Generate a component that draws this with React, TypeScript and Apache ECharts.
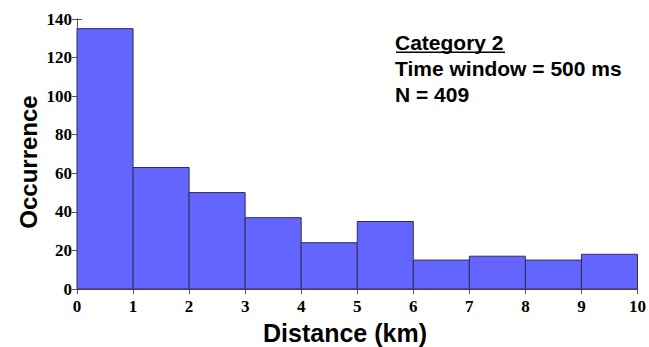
import React, { useEffect, useRef } from "react";
import * as echarts from "echarts";

const binStarts = [0, 1, 2, 3, 4, 5, 6, 7, 8, 9];
const binWidth = 1;
const counts = [135, 63, 50, 37, 24, 35, 15, 17, 15, 18];
const annotation = ["Category 2", "Time window = 500 ms", "N = 409"];

export default function App() {
  const ref = useRef<HTMLDivElement>(null);
  useEffect(() => {
    if (!ref.current) return;
    const chart = echarts.init(ref.current, null, { renderer: "svg" });
    const data = binStarts.map((s, i) => [s, s + binWidth, counts[i]]);
    const tickLabel = {
      fontFamily: "Liberation Serif",
      fontWeight: "bold" as const,
      fontSize: 17,
      color: "#000",
    };
    const axisLine = { show: true, lineStyle: { color: "#555", width: 1 } };
    const tick = { show: true, inside: true, length: 5, lineStyle: { color: "#555" } };
    chart.setOption({
      animation: false,
      grid: { left: 77, right: 8, top: 19, bottom: 58 },
      xAxis: [
        {
          type: "value",
          min: 0,
          max: 10,
          interval: 1,
          axisLine,
          axisTick: tick,
          axisLabel: { ...tickLabel, margin: 9 },
          splitLine: { show: false },
        },
        {
          type: "value",
          position: "top",
          min: 0,
          max: 10,
          interval: 1,
          axisLine,
          axisTick: tick,
          axisLabel: { show: false },
          splitLine: { show: false },
        },
      ],
      yAxis: [
        {
          type: "value",
          min: 0,
          max: 140,
          interval: 20,
          axisLine,
          axisTick: tick,
          axisLabel: { ...tickLabel, margin: 5 },
          splitLine: { show: false },
        },
        {
          type: "value",
          position: "right",
          min: 0,
          max: 140,
          interval: 20,
          axisLine,
          axisTick: tick,
          axisLabel: { show: false },
          splitLine: { show: false },
        },
      ],
      series: [
        {
          type: "custom",
          xAxisIndex: 0,
          yAxisIndex: 0,
          data,
          encode: { x: [0, 1], y: 2 },
          renderItem: (params: any, api: any) => {
            const p0 = api.coord([api.value(0), 0]);
            const p1 = api.coord([api.value(1), api.value(2)]);
            return {
              type: "rect",
              shape: { x: p0[0], y: p1[1], width: p1[0] - p0[0], height: p0[1] - p1[1] },
              style: { fill: "#6464fe", stroke: "#2e2e5c", lineWidth: 1 },
            };
          },
        },
      ],
      graphic: [
        {
          type: "text",
          x: 28,
          y: 162,
          rotation: Math.PI / 2,
          style: {
            text: "Occurrence",
            font: "bold 24px 'Liberation Sans'",
            fill: "#000",
            align: "center",
            verticalAlign: "middle",
          },
        },
        {
          type: "text",
          x: 345,
          y: 333,
          style: {
            text: "Distance (km)",
            font: "bold 25px 'Liberation Sans'",
            fill: "#000",
            align: "center",
            verticalAlign: "middle",
          },
        },
        {
          type: "text",
          x: 395,
          y: 42,
          style: {
            text: annotation[0],
            font: "bold 21px 'Liberation Sans'",
            fill: "#000",
            verticalAlign: "middle",
          },
        },
        {
          type: "rect",
          shape: { x: 396, y: 51.5, width: 109, height: 1.5 },
          style: { fill: "#000" },
        },
        {
          type: "text",
          x: 395,
          y: 68,
          style: {
            text: annotation[1],
            font: "bold 21px 'Liberation Sans'",
            fill: "#000",
            verticalAlign: "middle",
          },
        },
        {
          type: "text",
          x: 395,
          y: 94,
          style: {
            text: annotation[2],
            font: "bold 21px 'Liberation Sans'",
            fill: "#000",
            verticalAlign: "middle",
          },
        },
      ],
    });
    return () => chart.dispose();
  }, []);
  return (
    <div
      ref={ref}
      style={{ position: "fixed", left: 0, top: 0, width: 649, height: 347, background: "#fff" }}
    />
  );
}
